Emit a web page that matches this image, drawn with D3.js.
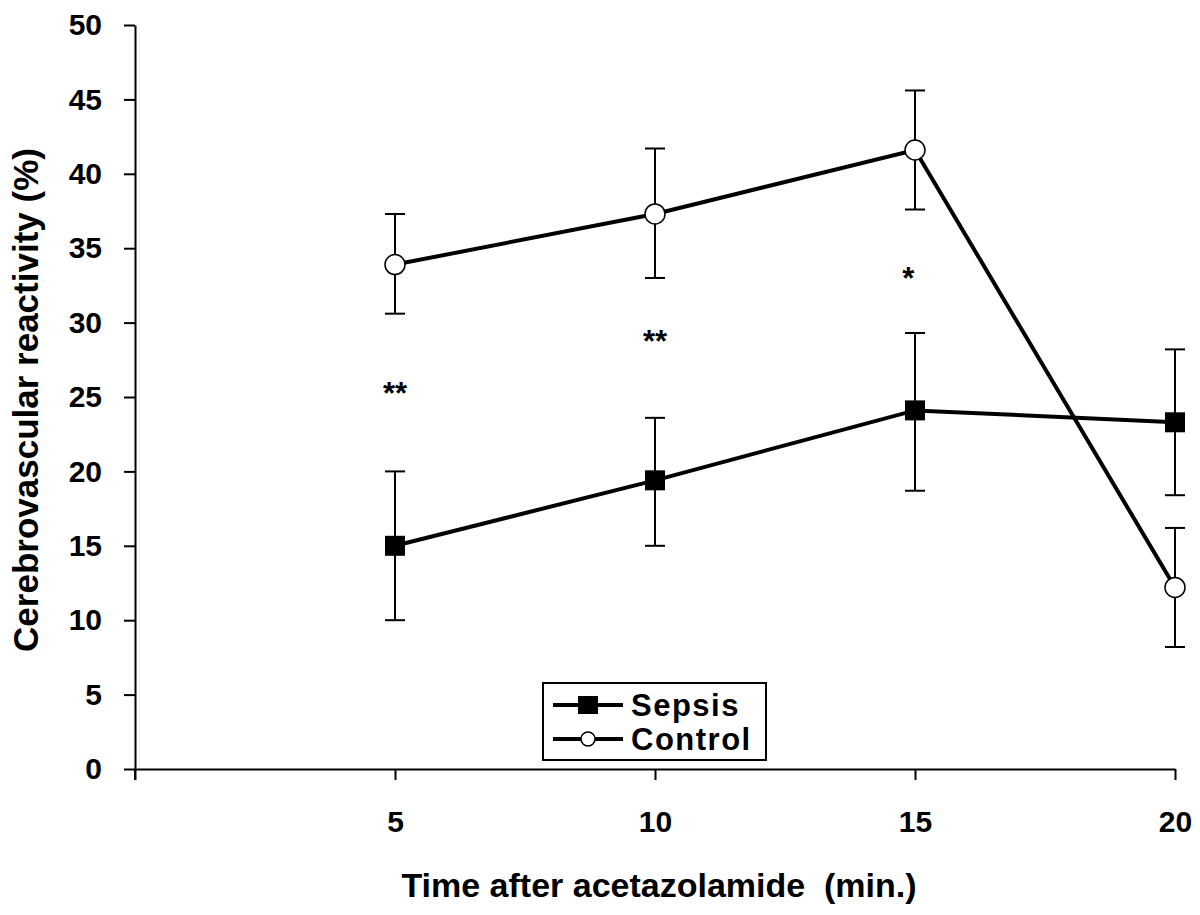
<!DOCTYPE html>
<html>
<head>
<meta charset="utf-8">
<script src="https://cdn.jsdelivr.net/npm/d3@7"></script>
<style>
  body { margin: 0; background: #fff; }
  text { font-family: "Liberation Sans", Arial, sans-serif; font-weight: bold; fill: #000; }
</style>
</head>
<body>
<svg id="chart" width="1200" height="915"></svg>
<script>
const times = [5, 10, 15, 20];

const sepsisMean = [15.0, 19.4, 24.1, 23.3];
const sepsisLow = [10.0, 15.0, 18.7, 18.4];
const sepsisHigh = [20.0, 23.6, 29.3, 28.2];

const controlMean = [33.9, 37.3, 41.6, 12.2];
const controlLow = [30.6, 33.0, 37.6, 8.2];
const controlHigh = [37.3, 41.7, 45.6, 16.2];

// significance marks
const starTimes = [5, 10, 14.87];
const starValues = [25.7, 29.2, 33.4];
const starLabels = ['**', '**', '*'];

const xTicks = [0, 5, 10, 15, 20];
const yTicks = [0, 5, 10, 15, 20, 25, 30, 35, 40, 45, 50];

const svg = d3.select('#chart');

const x = d3.scaleLinear().domain([0, 20]).range([135, 1175]);
const y = d3.scaleLinear().domain([0, 50]).range([769, 25]);

const makeRows = (mean, low, high) => times.map((t, i) => ({
  t, v: mean[i], lo: low[i], hi: high[i],
}));
const sepsis = makeRows(sepsisMean, sepsisLow, sepsisHigh);
const control = makeRows(controlMean, controlLow, controlHigh);

// X axis
const xAxis = svg.append('g')
  .attr('transform', `translate(0, ${y(0)})`)
  .call(d3.axisBottom(x)
    .tickValues(xTicks)
    .tickSize(11)
    .tickSizeOuter(0)
    .tickPadding(31)
    .tickFormat(d => (d === 0 ? '' : d)));
xAxis.selectAll('path, line').attr('stroke', '#000').attr('stroke-width', 2);
xAxis.selectAll('text').attr('font-size', 30).attr('font-family', null);

// Y axis
const yAxis = svg.append('g')
  .attr('transform', `translate(${x(0)}, 0)`)
  .call(d3.axisLeft(y)
    .tickValues(yTicks)
    .tickSize(11)
    .tickSizeOuter(0)
    .tickPadding(22));
yAxis.selectAll('path, line').attr('stroke', '#000').attr('stroke-width', 2);
yAxis.selectAll('text').attr('font-size', 30).attr('font-family', null);
// axis line continues below the origin
svg.append('line')
  .attr('x1', x(0)).attr('x2', x(0))
  .attr('y1', y(0)).attr('y2', y(0) + 11)
  .attr('stroke', '#000').attr('stroke-width', 2);

// Axis titles
svg.append('text')
  .attr('transform', 'translate(38, 400) rotate(-90)')
  .attr('text-anchor', 'middle')
  .attr('font-size', 35)
  .text('Cerebrovascular reactivity (%)');

svg.append('text')
  .attr('x', 659)
  .attr('y', 897)
  .attr('text-anchor', 'middle')
  .attr('font-size', 34)
  .attr('xml:space', 'preserve')
  .text('Time after acetazolamide  (min.)');

// Error bars
function errorBars(rows) {
  const g = svg.append('g').attr('stroke', '#000').attr('stroke-width', 2);
  g.selectAll('.stem').data(rows).enter().append('line')
    .attr('x1', d => x(d.t)).attr('x2', d => x(d.t))
    .attr('y1', d => y(d.lo)).attr('y2', d => y(d.hi));
  g.selectAll('.cap-hi').data(rows).enter().append('line')
    .attr('x1', d => x(d.t) - 10).attr('x2', d => x(d.t) + 10)
    .attr('y1', d => y(d.hi)).attr('y2', d => y(d.hi));
  g.selectAll('.cap-lo').data(rows).enter().append('line')
    .attr('x1', d => x(d.t) - 10).attr('x2', d => x(d.t) + 10)
    .attr('y1', d => y(d.lo)).attr('y2', d => y(d.lo));
}
errorBars(sepsis);
errorBars(control);

// Lines
const line = d3.line().x(d => x(d.t)).y(d => y(d.v));
[sepsis, control].forEach(rows => {
  svg.append('path')
    .datum(rows)
    .attr('d', line)
    .attr('fill', 'none')
    .attr('stroke', '#000')
    .attr('stroke-width', 4)
    .attr('stroke-linejoin', 'miter');
});

// Markers
svg.selectAll('.sq').data(sepsis).enter().append('rect')
  .attr('x', d => x(d.t) - 10)
  .attr('y', d => y(d.v) - 10)
  .attr('width', 20)
  .attr('height', 20)
  .attr('fill', '#000');
svg.selectAll('.ci').data(control).enter().append('circle')
  .attr('cx', d => x(d.t))
  .attr('cy', d => y(d.v))
  .attr('r', 10)
  .attr('fill', '#fff')
  .attr('stroke', '#000')
  .attr('stroke-width', 1.5);

// Significance stars
svg.selectAll('.star').data(starLabels).enter().append('text')
  .attr('x', (d, i) => x(starTimes[i]))
  .attr('y', (d, i) => y(starValues[i]) + 17)
  .attr('text-anchor', 'middle')
  .attr('font-size', 31)
  .text(d => d);

// Legend
const legend = svg.append('g').attr('transform', 'translate(543, 683)');
legend.append('rect')
  .attr('width', 223)
  .attr('height', 77)
  .attr('fill', '#fff')
  .attr('stroke', '#000')
  .attr('stroke-width', 2);
legend.append('line')
  .attr('x1', 10).attr('x2', 80).attr('y1', 22).attr('y2', 22)
  .attr('stroke', '#000').attr('stroke-width', 4);
legend.append('rect')
  .attr('x', 35).attr('y', 13).attr('width', 20).attr('height', 18)
  .attr('fill', '#000');
legend.append('text')
  .attr('x', 88).attr('y', 33)
  .attr('font-size', 31)
  .attr('letter-spacing', 1.5)
  .text('Sepsis');
legend.append('line')
  .attr('x1', 10).attr('x2', 80).attr('y1', 56).attr('y2', 56)
  .attr('stroke', '#000').attr('stroke-width', 4);
legend.append('circle')
  .attr('cx', 45).attr('cy', 56).attr('r', 7)
  .attr('fill', '#fff').attr('stroke', '#000').attr('stroke-width', 1.5);
legend.append('text')
  .attr('x', 88).attr('y', 67)
  .attr('font-size', 31)
  .attr('letter-spacing', 1.5)
  .text('Control');
</script>
</body>
</html>
